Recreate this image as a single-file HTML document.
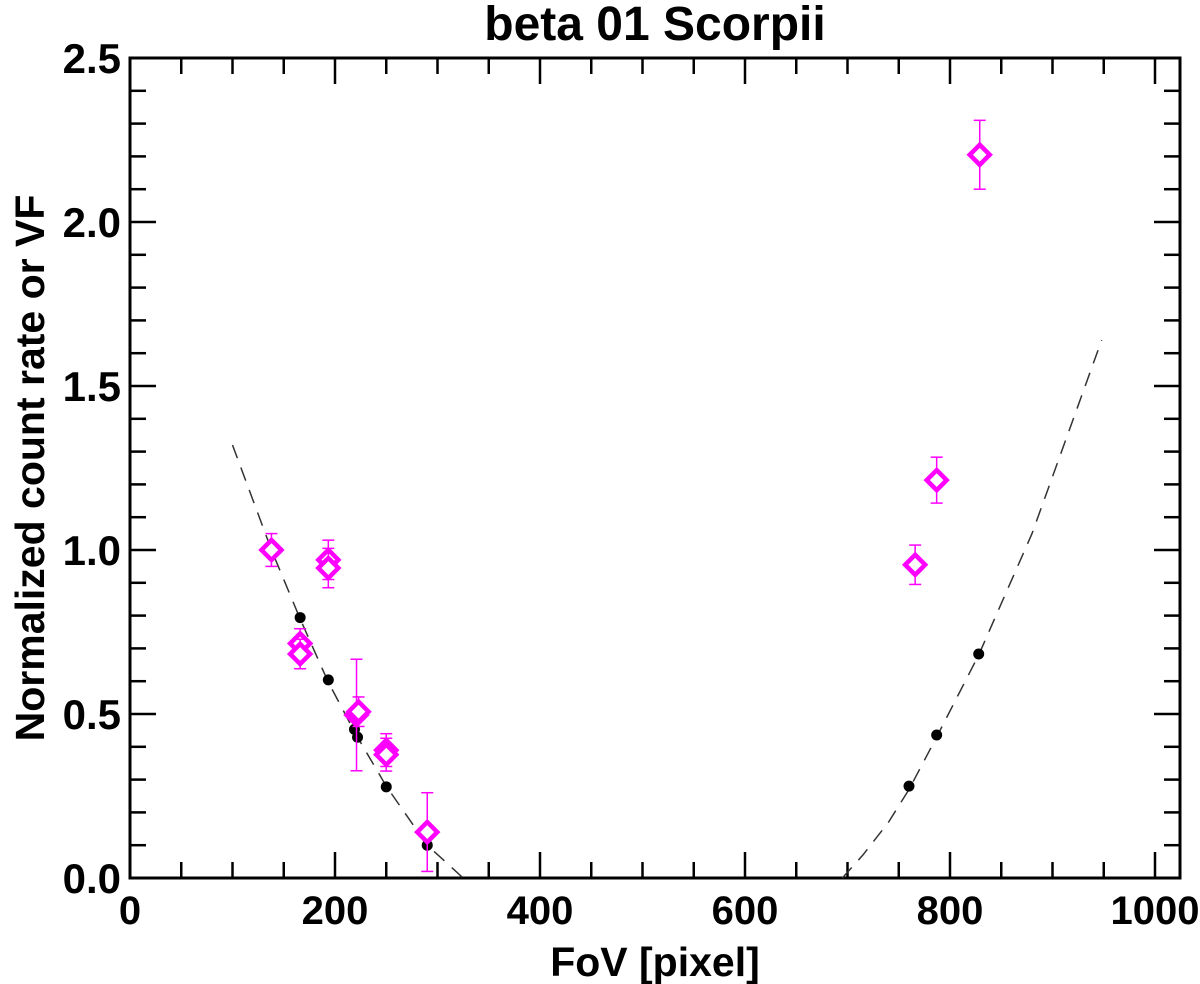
<!DOCTYPE html>
<html><head><meta charset="utf-8"><style>
html,body{margin:0;padding:0;background:#fff;}
svg{display:block;font-family:"Liberation Sans",sans-serif;font-weight:bold;}
</style></head><body>
<svg id="chart" width="1200" height="984" viewBox="0 0 1200 984">
<text x="655" y="40" text-anchor="middle" font-size="48">beta 01 Scorpii</text>
<g id="axes"></g>
<g id="curves"></g>
<g id="dots"></g>
<g id="obs"></g>
<text x="655" y="976" text-anchor="middle" font-size="41">FoV [pixel]</text>
<text transform="translate(44,468) rotate(-90)" text-anchor="middle" font-size="41">Normalized count rate or VF</text>
</svg>
<script>
const xTicks=[0,200,400,600,800,1000];
const yTicks=[0.0,0.5,1.0,1.5,2.0,2.5];
const yTickLabels=["0.0","0.5","1.0","1.5","2.0","2.5"];
const dotX=[138,166,193.5,219,222,250,290,760,787,828];
const dotY=[0.995,0.794,0.604,0.453,0.429,0.278,0.10,0.28,0.436,0.683];
const obsX=[138,193.5,193.5,166,166,221,223,250,250,290,766,787,829];
const obsY=[1.0,0.97,0.945,0.715,0.683,0.497,0.507,0.39,0.376,0.14,0.955,1.213,2.205];
const obsErr=[0.05,0.06,0.06,0.045,0.045,0.17,0.045,0.05,0.05,0.12,0.06,0.07,0.105];
const leftCurveX=[100,138,166,193,220,250,290,325];
const leftCurveY=[1.32,1.0,0.79,0.6,0.44,0.28,0.10,0.0];
const rightCurveX=[695,715,740,760,787,828,880,948];
const rightCurveY=[0.0,0.07,0.17,0.27,0.43,0.68,1.05,1.64];

const NS="http://www.w3.org/2000/svg";
const X0=130,XS=1.025,Y0=878,YS=328,L=130,R=1180,T=58,B=878;
const sx=v=>X0+v*XS, sy=v=>Y0-v*YS;
function mk(tag,attrs,parent){const e=document.createElementNS(NS,tag);for(const k in attrs)e.setAttribute(k,attrs[k]);parent.appendChild(e);return e;}
const axes=document.getElementById('axes');
const frame=mk('rect',{x:L,y:T,width:R-L,height:B-T,fill:'none',stroke:'#000','stroke-width':3},axes);


for(let v=0;v<=1020;v+=50){
  const major=v%200===0,len=major?26:16,x=sx(v);
  const t1=mk('line',{x1:x,y1:B,x2:x,y2:B-len,stroke:'#000','stroke-width':2.5},axes);
  
  
  const t2=mk('line',{x1:x,y1:T,x2:x,y2:T+len,stroke:'#000','stroke-width':2.5},axes);
  
  
}
for(let i=0;i<=25;i++){
  const v=i/10,major=i%5===0,len=major?26:16,y=sy(v);
  const t1=mk('line',{x1:L,y1:y,x2:L+len,y2:y,stroke:'#000','stroke-width':2.5},axes);
  
  
  const t2=mk('line',{x1:R,y1:y,x2:R-len,y2:y,stroke:'#000','stroke-width':2.5},axes);
  
  
}
xTicks.forEach(v=>{
  const t=mk('text',{x:sx(v),y:924,'text-anchor':'middle','font-size':40},axes);
  t.textContent=String(v);
  
  
});
yTicks.forEach((v,i)=>{
  const t=mk('text',{x:121,y:sy(v)+15,'text-anchor':'end','font-size':42},axes);
  t.textContent=yTickLabels[i];
  
  
});
const curves=document.getElementById('curves');
[[leftCurveX,leftCurveY,'left-model-curve'],[rightCurveX,rightCurveY,'right-model-curve']].forEach(([xs,ys,n])=>{
  const p=mk('polyline',{points:xs.map((x,i)=>sx(x)+','+sy(ys[i])).join(' '),fill:'none',stroke:'#333','stroke-width':1.5,'stroke-dasharray':'14,10'},curves);
  
  
});
const dots=document.getElementById('dots');
dotX.forEach((x,i)=>{
  const c=mk('circle',{cx:sx(x),cy:sy(dotY[i]),r:5.5,fill:'#000'},dots);
  
  
});
const obs=document.getElementById('obs');
obsX.forEach((x,i)=>{
  const cx=sx(x),cy=sy(obsY[i]),e1=sy(obsY[i]+obsErr[i]),e2=sy(obsY[i]-obsErr[i]);
  const g=mk('g',{stroke:'#ff00ff',fill:'none'},obs);
  
  
  mk('line',{x1:cx,y1:e1,x2:cx,y2:e2,'stroke-width':1.5},g);
  mk('line',{x1:cx-6,y1:e1,x2:cx+6,y2:e1,'stroke-width':1.5},g);
  mk('line',{x1:cx-6,y1:e2,x2:cx+6,y2:e2,'stroke-width':1.5},g);
  mk('polygon',{points:`${cx},${cy-10} ${cx+10},${cy} ${cx},${cy+10} ${cx-10},${cy}`,'stroke-width':4.5,fill:'#fff'},g);
});
</script>
</body></html>
